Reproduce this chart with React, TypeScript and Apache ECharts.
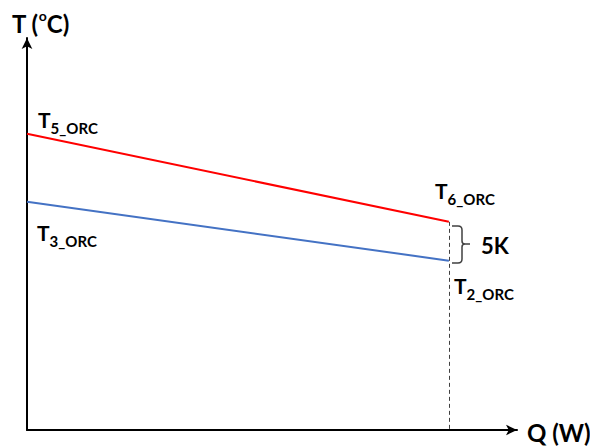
import React, { useEffect, useRef } from "react";
import * as echarts from "echarts";

const qPoints = [0, 86.1];
const redT = [75.6, 53.1];
const blueT = [58.2, 43.2];
const yTitle = ["T (", "o", "C)"];
const xTitle = "Q (W)";
const pointLabels = [
  { main: "T", sub: "5_ORC", x: 38, y: 103 },
  { main: "T", sub: "3_ORC", x: 37, y: 216 },
  { main: "T", sub: "6_ORC", x: 435, y: 174 },
  { main: "T", sub: "2_ORC", x: 454, y: 269 },
];
const diffLabel = "5K";

const bracePath =
  "M0,0 L6,0 Q10,0 10,4 L10,15 Q10,18 13,18 L18,18 M13,18 Q10,18 10,21 L10,33 Q10,37 6,37 L0,37";

let registered = false;

export default function App() {
  const ref = useRef<HTMLDivElement>(null);
  useEffect(() => {
    if (!registered) {
      echarts.graphic.registerShape("brace", echarts.graphic.extendPath(bracePath, {}) as any);
      registered = true;
    }
    const chart = echarts.init(ref.current!, null, { renderer: "svg" });
    const font = "Lato";
    const labelGraphics = pointLabels.map((l) => ({
      type: "text",
      x: l.x,
      y: l.y,
      style: {
        text: `{t|${l.main}}{s|${l.sub}}`,
        verticalAlign: "top",
        rich: {
          t: { fontSize: 21, fontWeight: "bold", fontFamily: font, lineHeight: 32, verticalAlign: "middle", fill: "#000" },
          s: { fontSize: 15, fontWeight: "bold", fontFamily: font, lineHeight: 15, verticalAlign: "bottom", fill: "#000" },
        },
      },
    }));
    chart.setOption({
      animation: false,
      grid: { left: 27, right: 73, top: 38, bottom: 16 },
      xAxis: {
        type: "value",
        min: 0,
        max: 100,
        axisLine: { show: true, symbol: ["none", "arrow"], symbolSize: [8, 11], lineStyle: { color: "#000", width: 2 } },
        axisTick: { show: false },
        axisLabel: { show: false },
        splitLine: { show: false },
      },
      yAxis: {
        type: "value",
        min: 0,
        max: 100,
        axisLine: { show: true, symbol: ["none", "arrow"], symbolSize: [8, 11], lineStyle: { color: "#000", width: 2 } },
        axisTick: { show: false },
        axisLabel: { show: false },
        splitLine: { show: false },
      },
      series: [
        {
          type: "line",
          data: qPoints.map((q, i) => [q, redT[i]]),
          symbol: "none",
          lineStyle: { color: "#ff0000", width: 2 },
          z: 3,
        },
        {
          type: "line",
          data: qPoints.map((q, i) => [q, blueT[i]]),
          symbol: "none",
          lineStyle: { color: "#4472c4", width: 2 },
          z: 3,
          markLine: {
            silent: true,
            symbol: "none",
            label: { show: false },
            lineStyle: { color: "#404040", width: 1, type: [4, 3] },
            data: [[{ coord: [qPoints[1], redT[1]] }, { coord: [qPoints[1], 0] }]],
          },
        },
      ],
      graphic: [
        ...labelGraphics,
        {
          type: "text",
          x: 12,
          y: 8,
          style: {
            text: `{a|${yTitle[0]}}{o|${yTitle[1]}}{a|${yTitle[2]}}`,
            verticalAlign: "top",
            rich: {
              a: { fontSize: 24, fontWeight: "bold", fontFamily: font, lineHeight: 30, verticalAlign: "middle", fill: "#000" },
              o: { fontSize: 14, fontWeight: "bold", fontFamily: font, lineHeight: 24, verticalAlign: "top", fill: "#000" },
            },
          },
        },
        {
          type: "text",
          x: 527,
          y: 432,
          style: {
            text: xTitle,
            fontSize: 24,
            fontWeight: "bold",
            fontFamily: font,
            verticalAlign: "middle",
            fill: "#000",
          },
        },
        {
          type: "text",
          x: 481,
          y: 245,
          style: {
            text: diffLabel,
            fontSize: 22,
            fontWeight: "bold",
            fontFamily: font,
            verticalAlign: "middle",
            fill: "#000",
          },
        },
        {
          type: "brace",
          x: 452,
          y: 226,
          style: { stroke: "#404040", fill: "none", lineWidth: 1.5 },
        },
      ],
    });
    return () => chart.dispose();
  }, []);
  return <div ref={ref} style={{ position: "fixed", left: 0, top: 0, width: 590, height: 446, background: "#fff" }} />;
}
